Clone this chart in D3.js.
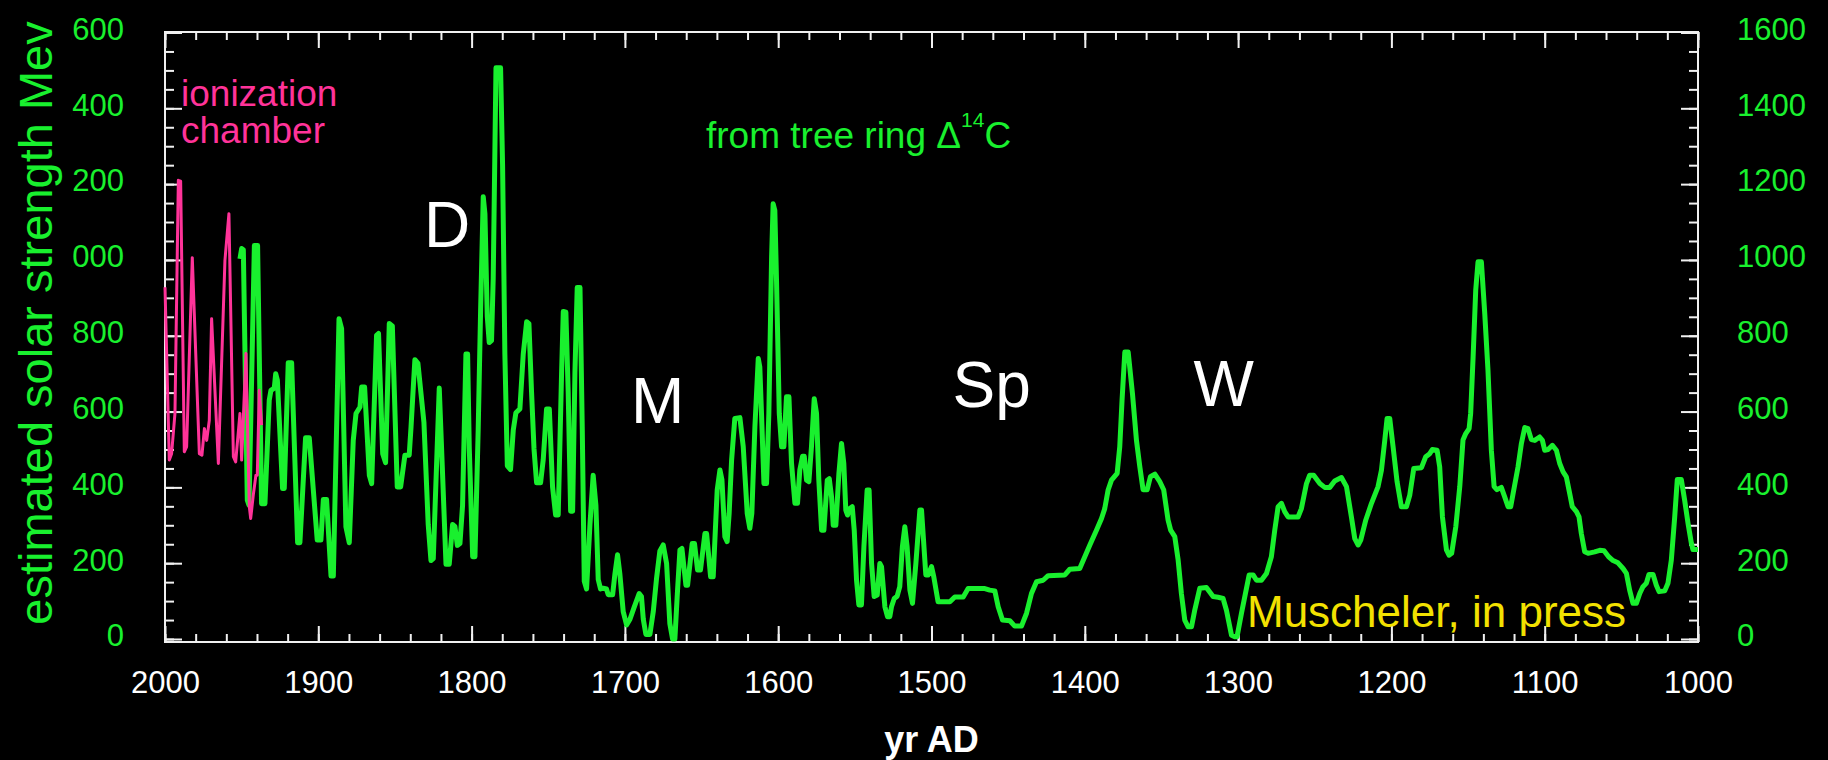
<!DOCTYPE html>
<html>
<head>
<meta charset="utf-8">
<script src="https://cdn.jsdelivr.net/npm/d3@7"></script>
<style>
  html, body { margin: 0; padding: 0; background: #000; }
  svg { display: block; }
</style>
</head>
<body>
<svg id="chart" width="1828" height="760"></svg>
<script>
// Ionization chamber record (years AD, MeV)
const chamberYears = [2000, 1997.2, 1995.7, 1993.5, 1991.3, 1989.8, 1987.4, 1985.9, 1982.2, 1977.6,
  1975.9, 1974.3, 1972.8, 1971.1, 1969.6, 1965.2, 1960.9, 1958.3, 1955.4, 1953.9,
  1951.1, 1950.0, 1947.2, 1945.0, 1944.1, 1942.4, 1940.7, 1939.8, 1938.5, 1937.0];
const chamberValues = [928, 472, 489, 595, 1210, 1208, 494, 507, 1006, 489,
  485, 555, 524, 577, 845, 463, 999, 1122, 481, 467,
  595, 472, 753, 349, 318, 380, 432, 432, 656, 564];

// Reconstruction from tree ring radiocarbon (years AD, MeV)
const treeRingYears = [
  1951.1,1950.0,1948.9,1946.3,1945.2,1941.7,1939.6,1937.0,1934.8,1932.0,
  1930.9,1928.7,1927.8,1926.7,1923.3,1922.2,1919.6,1917.4,1913.5,1912.0,
  1908.3,1905.9,1900.7,1898.3,1896.7,1894.6,1891.7,1890.2,1886.5,1884.8,
  1882.0,1879.8,1877.2,1875.4,1872.8,1871.7,1869.8,1866.7,1865.2,1862.0,
  1860.7,1858.0,1856.1,1853.7,1851.7,1848.5,1846.3,1843.5,1840.7,1839.5,
  1837.0,1835.0,1831.1,1828.3,1826.5,1825.0,1821.1,1819.1,1816.7,1814.6,
  1812.4,1810.9,1809.3,1807.6,1805.9,1803.7,1802.6,1801.5,1799.3,1797.8,
  1795.7,1794.1,1792.4,1791.3,1789.8,1788.5,1787.0,1785.9,1784.1,1781.1,
  1779.8,1778.3,1776.7,1774.6,1772.8,1771.1,1768.5,1766.3,1764.1,1762.6,
  1760.9,1759.3,1757.6,1755.0,1753.3,1751.1,1749.3,1747.2,1745.2,1743.5,
  1741.3,1740.2,1738.5,1737.0,1735.4,1734.1,1732.6,1731.1,1729.3,1727.8,
  1726.5,1725.0,1722.8,1720.7,1718.9,1717.4,1715.9,1714.1,1712.0,1710.9,
  1708.0,1706.5,1704.8,1703.3,1701.1,1698.9,1696.7,1694.1,1690.7,1689.2,
  1688.0,1686.3,1683.7,1681.5,1679.3,1677.2,1675.0,1672.8,1670.7,1668.9,
  1667.4,1665.9,1664.1,1662.8,1660.2,1659.1,1656.1,1654.6,1652.6,1650.7,
  1647.8,1646.7,1644.1,1642.4,1639.8,1638.0,1636.7,1634.8,1633.3,1632.0,
  1630.4,1628.3,1625.0,1622.8,1620.2,1618.5,1617.2,1615.2,1613.0,1612.0,
  1610.9,1609.3,1607.6,1606.1,1604.3,1603.3,1602.2,1601.1,1599.3,1597.8,
  1596.3,1594.6,1593.0,1591.3,1589.1,1587.4,1585.9,1584.1,1583.0,1581.5,
  1580.0,1578.3,1576.5,1575.0,1573.5,1571.7,1570.2,1568.0,1566.7,1565.2,
  1564.1,1562.4,1560.4,1558.7,1557.2,1555.9,1554.8,1553.3,1551.7,1550.4,
  1548.9,1547.4,1545.7,1544.1,1542.0,1540.7,1539.1,1537.4,1535.4,1533.7,
  1532.6,1530.4,1528.7,1527.2,1526.1,1524.3,1522.4,1520.7,1519.0,1517.4,
  1515.9,1514.1,1512.4,1510.2,1507.6,1506.5,1503.7,1502.2,1500.0,1498.5,
  1495.7,1488.0,1484.8,1479.3,1476.1,1465.2,1462.0,1458.7,1456.5,1453.7,
  1448.9,1445.7,1441.3,1438.0,1434.8,1431.5,1427.2,1423.9,1413.0,1409.8,
  1403.3,1400.0,1396.7,1392.4,1389.1,1387.0,1384.8,1382.6,1378.9,1377.2,
  1375.7,1373.9,1371.7,1368.9,1366.3,1364.1,1362.0,1359.3,1357.2,1354.3,
  1351.1,1348.5,1345.7,1344.0,1341.3,1339.1,1337.0,1334.8,1332.6,1330.4,
  1328.3,1325.0,1320.7,1316.3,1313.0,1309.8,1307.6,1304.3,1302.2,1300.7,
  1297.8,1292.8,1290.2,1288.0,1284.8,1281.5,1278.3,1276.1,1273.9,1271.7,
  1269.6,1267.4,1260.9,1258.7,1255.4,1253.3,1250.7,1246.7,1243.5,1240.2,
  1237.0,1232.6,1229.3,1226.1,1223.9,1221.7,1220.0,1216.7,1213.0,1208.7,
  1206.5,1204.3,1202.8,1201.1,1198.9,1196.3,1193.5,1190.2,1188.0,1185.4,
  1180.4,1177.6,1175.0,1173.3,1170.2,1168.5,1166.7,1164.1,1162.4,1160.7,
  1158.0,1155.4,1153.3,1151.5,1149.3,1148.3,1146.7,1145.0,1143.5,1141.3,
  1139.1,1137.0,1134.8,1133.0,1131.1,1128.3,1126.1,1123.9,1122.2,1119.6,
  1117.4,1115.2,1113.0,1110.9,1108.7,1106.5,1103.3,1101.5,1100.0,1097.8,
  1095.0,1092.4,1090.2,1088.0,1085.9,1083.7,1082.0,1079.3,1077.6,1076.1,
  1073.9,1071.7,1067.4,1064.1,1061.3,1058.3,1055.4,1052.2,1048.9,1046.7,
  1044.6,1042.4,1040.2,1038.0,1035.9,1033.7,1032.0,1029.3,1027.2,1025.4,
  1021.7,1019.6,1017.4,1015.2,1013.5,1010.9,1008.7,1006.5,1004.3,1003.3,
  1000.0];
const treeRingValues = [
  1003,1030,1027,366,353,1038,1038,357,357,630,
  656,662,700,683,397,397,729,729,254,254,
  531,531,261,261,368,368,166,166,845,819,
  296,254,524,595,612,665,665,432,410,801,
  806,489,465,832,826,401,401,485,485,560,
  737,727,572,302,207,212,662,452,197,197,
  302,297,247,252,352,752,752,502,217,217,
  552,872,1167,1122,852,782,787,952,1507,1507,
  1252,752,457,447,552,597,607,752,837,832,
  652,502,412,412,472,607,607,402,327,327,
  702,864,862,652,337,337,702,927,927,552,
  152,132,302,432,352,157,132,134,132,117,
  117,172,222,172,72,37,52,82,120,112,
  52,12,12,72,162,232,248,199,41,0,
  0,112,235,239,142,142,252,252,182,182,
  278,278,164,164,393,446,420,270,257,331,
  472,582,584,507,331,292,331,560,740,718,
  595,410,410,595,1008,1148,1131,946,595,507,
  507,639,639,463,358,358,446,482,482,419,
  415,507,634,595,419,287,287,419,423,375,
  300,300,437,516,463,340,327,344,349,287,
  155,90,90,243,393,393,199,112,116,199,
  191,85,59,59,85,107,113,138,243,296,
  243,129,94,199,340,340,169,169,191,164,
  98,98,111,111,133,133,129,127,85,50,
  48,34,34,68,120,151,155,167,169,184,
  186,217,248,287,318,344,393,419,437,507,
  630,757,757,647,524,454,394,394,428,435,
  415,393,314,287,270,208,120,50,32,32,
  76,134,136,112,110,107,76,10,6,6,
  68,169,169,155,155,173,217,287,349,358,
  336,322,322,344,410,432,432,410,400,400,
  417,426,402,322,265,248,261,314,358,402,
  445,525,582,582,507,415,349,349,380,450,
  452,481,489,500,498,454,322,235,221,226,
  296,402,525,542,555,595,744,920,995,995,
  858,709,498,402,394,400,375,349,349,406,
  454,516,558,555,526,524,533,524,498,500,
  511,498,463,441,428,384,349,336,322,278,
  230,226,230,234,233,217,207,201,186,173,
  129,94,94,120,138,147,170,170,142,125,
  127,147,208,322,421,421,366,305,252,236,
  236];

// Axis ticks
const yearTicks = [2000, 1900, 1800, 1700, 1600, 1500, 1400, 1300, 1200, 1100, 1000];
const yearMinorTicks = d3.range(1000, 2001, 20);
const strengthTicks = [0, 200, 400, 600, 800, 1000, 1200, 1400, 1600];
const strengthMinorTicks = d3.range(0, 1601, 50);

const GREEN = "#19f02e";
const PINK = "#ff3399";
const YELLOW = "#f2e100";
const AXIS = "#f0f0f0";
const FONT = "'Liberation Sans', Arial, Helvetica, sans-serif";

const svg = d3.select("#chart");
svg.append("rect").attr("width", 1828).attr("height", 760).attr("fill", "#000");

const frame = { left: 165, right: 1698, top: 32, bottom: 642 };

const x = d3.scaleLinear().domain([2000, 1000]).range([frame.left, frame.right]);
const y = d3.scaleLinear().domain([0, 1600]).range([639, 32.5]);

// The left-hand labels lose their leading digit at x = 71
const defs = svg.append("defs");
defs.append("clipPath").attr("id", "leftLabelClip")
  .append("rect").attr("x", 71).attr("y", 0).attr("width", 400).attr("height", 760);

function styleAxis(g, color, size) {
  g.select(".domain").remove();
  g.selectAll(".tick line").attr("stroke", AXIS).attr("stroke-width", 2);
  g.selectAll(".tick text")
    .attr("fill", color)
    .attr("font-family", FONT)
    .attr("font-size", size);
}

// Bottom axis: major ticks with labels, minor ticks
const bottomMinor = svg.append("g").attr("transform", `translate(0,${frame.bottom})`)
  .call(d3.axisBottom(x).tickValues(yearMinorTicks).tickSize(-8).tickFormat(""));
styleAxis(bottomMinor, AXIS, 31);
const bottomMajor = svg.append("g").attr("transform", `translate(0,${frame.bottom})`)
  .call(d3.axisBottom(x).tickValues(yearTicks).tickSize(-16).tickPadding(29).tickFormat(d3.format("d")));
styleAxis(bottomMajor, "#ffffff", 31);

// Top axis: ticks only
const topMinor = svg.append("g").attr("transform", `translate(0,${frame.top})`)
  .call(d3.axisTop(x).tickValues(yearMinorTicks).tickSize(-8).tickFormat(""));
styleAxis(topMinor, AXIS, 31);
const topMajor = svg.append("g").attr("transform", `translate(0,${frame.top})`)
  .call(d3.axisTop(x).tickValues(yearTicks).tickSize(-16).tickFormat(""));
styleAxis(topMajor, AXIS, 31);

// Left axis (wrapper group carries the clip in page coordinates)
const leftMinor = svg.append("g").attr("transform", `translate(${frame.left},0)`)
  .call(d3.axisLeft(y).tickValues(strengthMinorTicks).tickSize(-9).tickFormat(""));
styleAxis(leftMinor, AXIS, 31);
const leftMajor = svg.append("g").attr("clip-path", "url(#leftLabelClip)")
  .append("g").attr("transform", `translate(${frame.left},0)`)
  .call(d3.axisLeft(y).tickValues(strengthTicks).tickSize(-17).tickPadding(41).tickFormat(d3.format("d")));
styleAxis(leftMajor, GREEN, 31);
leftMajor.selectAll(".tick text").attr("dy", "0.22em");

// Right axis
const rightMinor = svg.append("g").attr("transform", `translate(${frame.right},0)`)
  .call(d3.axisRight(y).tickValues(strengthMinorTicks).tickSize(-9).tickFormat(""));
styleAxis(rightMinor, AXIS, 31);
const rightMajor = svg.append("g").attr("transform", `translate(${frame.right},0)`)
  .call(d3.axisRight(y).tickValues(strengthTicks).tickSize(-17).tickPadding(39).tickFormat(d3.format("d")));
styleAxis(rightMajor, GREEN, 31);
rightMajor.selectAll(".tick text").attr("dy", "0.22em");

// Plot frame
svg.append("rect")
  .attr("x", frame.left).attr("y", frame.top)
  .attr("width", frame.right - frame.left).attr("height", frame.bottom - frame.top)
  .attr("fill", "none").attr("stroke", AXIS).attr("stroke-width", 2);

// Series
const line = d3.line().x(d => x(d[0])).y(d => y(d[1]));
const treeRing = d3.zip(treeRingYears, treeRingValues);
const chamber = d3.zip(chamberYears, chamberValues);

svg.append("path").datum(treeRing)
  .attr("d", line)
  .attr("fill", "none").attr("stroke", GREEN)
  .attr("stroke-width", 5).attr("stroke-linejoin", "round").attr("stroke-linecap", "butt");

svg.append("path").datum(chamber)
  .attr("d", line)
  .attr("fill", "none").attr("stroke", PINK)
  .attr("stroke-width", 3).attr("stroke-linejoin", "round");

// Axis titles
svg.append("text")
  .attr("transform", "translate(52,323) rotate(-90)")
  .attr("text-anchor", "middle")
  .attr("fill", GREEN).attr("font-family", FONT).attr("font-size", 47)
  .text("estimated solar strength Mev");

svg.append("text")
  .attr("x", (frame.left + frame.right) / 2).attr("y", 752)
  .attr("text-anchor", "middle")
  .attr("fill", "#ffffff").attr("font-family", FONT).attr("font-size", 36).attr("font-weight", "bold")
  .text("yr AD");

// Annotations
const chamberLabel = svg.append("text")
  .attr("fill", PINK).attr("font-family", FONT).attr("font-size", 37);
chamberLabel.append("tspan").attr("x", 181).attr("y", 106).text("ionization");
chamberLabel.append("tspan").attr("x", 181).attr("y", 142.7).text("chamber");

const treeLabel = svg.append("text")
  .attr("x", 706).attr("y", 147.7)
  .attr("fill", GREEN).attr("font-family", FONT).attr("font-size", 37);
treeLabel.append("tspan").text("from tree ring \u0394");
treeLabel.append("tspan").attr("font-size", 21).attr("dy", -21).text("14");
treeLabel.append("tspan").attr("dy", 21).text("C");

const eras = [
  { text: "D",  x: 424,    y: 246.6 },
  { text: "M",  x: 631,    y: 423 },
  { text: "Sp", x: 952.5,  y: 407.3 },
  { text: "W",  x: 1193.5, y: 405.7 }
];
svg.selectAll(".era").data(eras).enter().append("text")
  .attr("class", "era")
  .attr("x", d => d.x).attr("y", d => d.y)
  .attr("fill", "#ffffff").attr("font-family", FONT).attr("font-size", 64)
  .text(d => d.text);

svg.append("text")
  .attr("x", 1247).attr("y", 626.7)
  .attr("fill", YELLOW).attr("font-family", FONT).attr("font-size", 44)
  .text("Muscheler, in press");
</script>
</body>
</html>
